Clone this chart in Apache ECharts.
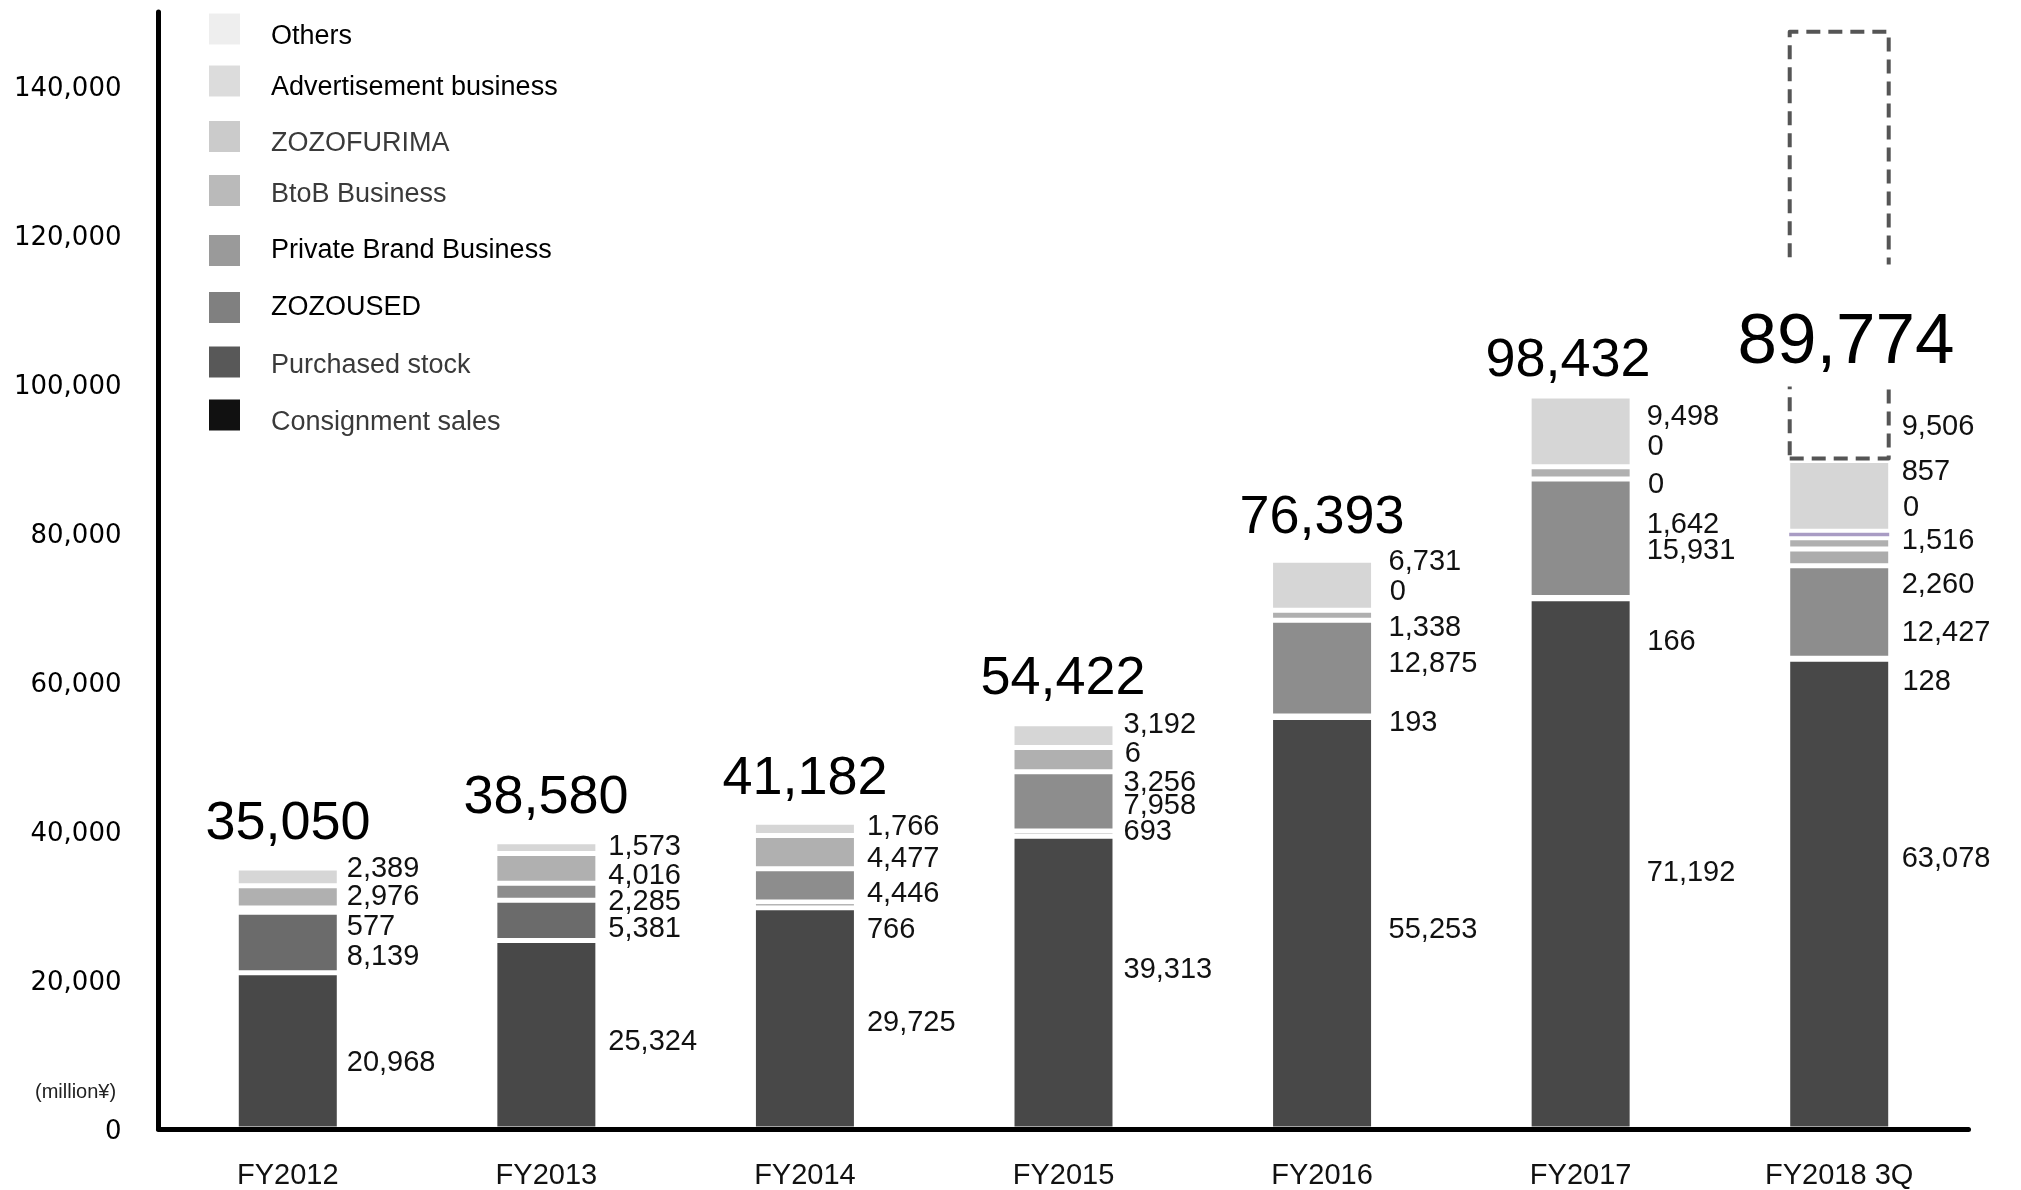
<!DOCTYPE html>
<html>
<head>
<meta charset="utf-8">
<script src="https://cdn.jsdelivr.net/npm/echarts@6/dist/echarts.min.js"></script>
<style>
  html, body { margin: 0; padding: 0; background: #fff; }
  #chart { width: 2021px; height: 1190px; }
</style>
</head>
<body>
<div id="chart"></div>
<script>
// Net sales breakdown by business (million yen)
const categories = ['FY2012', 'FY2013', 'FY2014', 'FY2015', 'FY2016', 'FY2017', 'FY2018 3Q'];

const consignmentSales   = [20968, 25324, 29725, 39313, 55253, 71192, 63078];
const purchasedStock     = [8139, 5381, 766, 693, 193, 166, 128];
const zozoused           = [577, 2285, 4446, 7958, 12875, 15931, 12427];
const privateBrand       = [null, null, null, null, null, null, 2260];
const btobBusiness       = [2976, 4016, 4477, 3256, 1338, 1642, 1516];
const zozofurima         = [null, null, null, 6, 0, 0, 0];
const advertisement      = [null, null, null, null, null, 0, 857];
const others             = [2389, 1573, 1766, 3192, 6731, 9498, 9506];

const totals             = [35050, 38580, 41182, 54422, 76393, 98432, 89774];
const fullYearForecast   = [null, null, null, null, null, null, 147600];

const yTicks = { min: 0, max: 150000, interval: 20000 };

// ---- layout: where each value label sits (pixel centre lines) ----
const labelGapX = [7.5, 10.5, 10.5, 8.5, 15, 14.5, 11];
const labelYConsignment = [1063, 1042, 1023, 970, 930, 873, 859];
const labelYPurchased   = [957, 929, 930, 832, 723, 642, 682];
const labelYUsed        = [927, 902, 894, 806, 664, 551, 633];
const labelYPB          = [null, null, null, null, null, null, 585];
const labelYBtoB        = [897, 876, 859, 783, 628, 525, 541];
const labelYFurima      = [null, null, null, 754, 592, 485, 508];
const labelYAd          = [null, null, null, null, null, 447, 472];
const labelYOthers      = [869, 847, 827, 725, 562, 417, 427];

const totalLabelX = [288, 546, 805, 1063, 1322, 1568, 1846];
const totalLabelY = [824, 798, 779, 679, 518, 361, 325.5];

// legend rows: legend box top and how far the caption sits below the swatch centre
const segments = [
  { name: 'Consignment sales',      data: consignmentSales, color: '#484848', legend: '#111111', text: '#3a3a3a', top: 394,   drop: 7.5, bw: 2.5, ly: labelYConsignment },
  { name: 'Purchased stock',        data: purchasedStock,   color: '#6b6b6b', legend: '#585858', text: '#3a3a3a', top: 344.5, drop: 4,   bw: 2.5, ly: labelYPurchased },
  { name: 'ZOZOUSED',               data: zozoused,         color: '#8d8d8d', legend: '#808080', text: '#000000', top: 292,   drop: 0,   bw: 2.5, ly: labelYUsed },
  { name: 'Private Brand Business', data: privateBrand,     color: '#acacac', legend: '#9a9a9a', text: '#000000', top: 235,   drop: 0,   bw: 2.5, ly: labelYPB },
  { name: 'BtoB Business',          data: btobBusiness,     color: '#b0b0b0', legend: '#bababa', text: '#3a3a3a', top: 172.5, drop: 4.5, bw: 2.5, ly: labelYBtoB },
  { name: 'ZOZOFURIMA',             data: zozofurima,       color: '#c8c8c8', legend: '#cbcbcb', text: '#3a3a3a', top: 116,   drop: 7,   bw: 2.5, ly: labelYFurima },
  { name: 'Advertisement business', data: advertisement,    color: '#a99cc4', legend: '#dcdcdc', text: '#000000', top: 61,    drop: 6.5, bw: 1.5, ly: labelYAd },
  { name: 'Others',                 data: others,           color: '#d6d6d6', legend: '#eeeeee', text: '#000000', top: 7.5,   drop: 8,   bw: 2.5, ly: labelYOthers }
];

const BAR_W = 103;
const SWATCH = 31;
const fmt = v => v.toLocaleString('en-US');

const series = segments.map(s => ({
  name: s.name,
  type: 'bar',
  stack: 'sales',
  barWidth: BAR_W,
  barGap: '-100%',
  data: s.data,
  z: 2,
  itemStyle: { color: s.color, borderColor: '#ffffff', borderWidth: s.bw },
  label: {
    show: true,
    position: 'right',
    formatter: p => fmt(p.value),
    fontFamily: 'Liberation Sans',
    fontSize: 29,
    color: '#111'
  },
  labelLayout: p => {
    const y = s.ly[p.dataIndex];
    if (y == null) return {};
    return {
      x: p.rect.x + p.rect.width + labelGapX[p.dataIndex],
      y: y,
      align: 'left',
      verticalAlign: 'middle'
    };
  },
  silent: true
}));

// Remaining part up to the full-year forecast, drawn as a dashed outline
const stackSum = categories.map((c, i) =>
  segments.reduce((acc, s) => acc + (s.data[i] || 0), 0));
const forecastRemainder = fullYearForecast.map((f, i) => f == null ? null : f - stackSum[i]);

series.push({
  name: 'Forecast',
  type: 'bar',
  stack: 'sales',
  barWidth: BAR_W,
  barGap: '-100%',
  data: forecastRemainder,
  z: 3,
  itemStyle: {
    color: 'rgba(255,255,255,0)',
    borderColor: '#555555',
    borderWidth: 4,
    borderType: [14, 8],
    borderJoin: 'round'
  },
  silent: true
});

// Totals, as transparent bars carrying the big labels;
// the year-to-date figure is larger and opens a gap in the dashed outline
const lastIdx = totals.length - 1;
series.push({
  name: 'Total',
  type: 'bar',
  barWidth: BAR_W,
  barGap: '-100%',
  z: 6,
  itemStyle: { color: 'rgba(0,0,0,0)' },
  label: {
    show: true,
    formatter: p => (p.dataIndex === lastIdx ? '\n' : '') + fmt(p.value),
    fontFamily: 'Liberation Sans',
    fontSize: 54,
    lineHeight: 54,
    color: '#000'
  },
  labelLayout: p => ({
    x: totalLabelX[p.dataIndex],
    y: totalLabelY[p.dataIndex],
    align: 'center',
    verticalAlign: 'middle'
  }),
  data: totals.map((v, i) => i === lastIdx ? {
    value: v,
    label: {
      fontSize: 71,
      lineHeight: 35,
      backgroundColor: '#ffffff',
      padding: [26, 4, 26, 4]
    }
  } : v),
  silent: true
});

// one legend per row so each row keeps its own spacing
const legends = segments.map(s => ({
  left: 209,
  top: s.top,
  padding: 0,
  orient: 'vertical',
  selectedMode: false,
  icon: 'rect',
  itemWidth: SWATCH,
  itemHeight: SWATCH,
  formatter: name => (s.drop > 0 ? '\n' : '') + name,
  textStyle: {
    fontFamily: 'Liberation Sans',
    fontSize: 27,
    lineHeight: s.drop > 0 ? 2 * s.drop : 31,
    color: s.text,
    padding: [0, 0, 0, 26]
  },
  data: [{ name: s.name, itemStyle: { color: s.legend, borderWidth: 0 } }]
}));

const chart = echarts.init(document.getElementById('chart'));
chart.setOption({
  animation: false,
  backgroundColor: '#ffffff',
  grid: { left: 158.5, right: 52.5, top: 12, bottom: 61, containLabel: false },
  legend: legends,
  xAxis: {
    type: 'category',
    data: categories,
    z: 10,
    axisLine: { show: true, lineStyle: { color: '#000', width: 5 } },
    axisTick: { show: false },
    axisLabel: {
      margin: 32,
      fontFamily: 'Liberation Sans',
      fontSize: 29,
      color: '#111'
    }
  },
  yAxis: {
    type: 'value',
    min: yTicks.min,
    max: yTicks.max,
    interval: yTicks.interval,
    z: 10,
    axisLine: { show: true, lineStyle: { color: '#000', width: 5 } },
    axisTick: { show: false },
    splitLine: { show: false },
    axisLabel: {
      margin: 37,
      showMaxLabel: false,
      fontFamily: 'DejaVu Sans',
      fontSize: 26,
      lineHeight: 6,
      color: '#000',
      formatter: v => '\n' + fmt(v)
    }
  },
  graphic: [{
    type: 'text',
    left: 35,
    top: 1082,
    style: {
      text: '(million¥)',
      fontFamily: 'Liberation Sans',
      fontSize: 20,
      fill: '#222'
    }
  }],
  series: series
});
</script>
</body>
</html>
